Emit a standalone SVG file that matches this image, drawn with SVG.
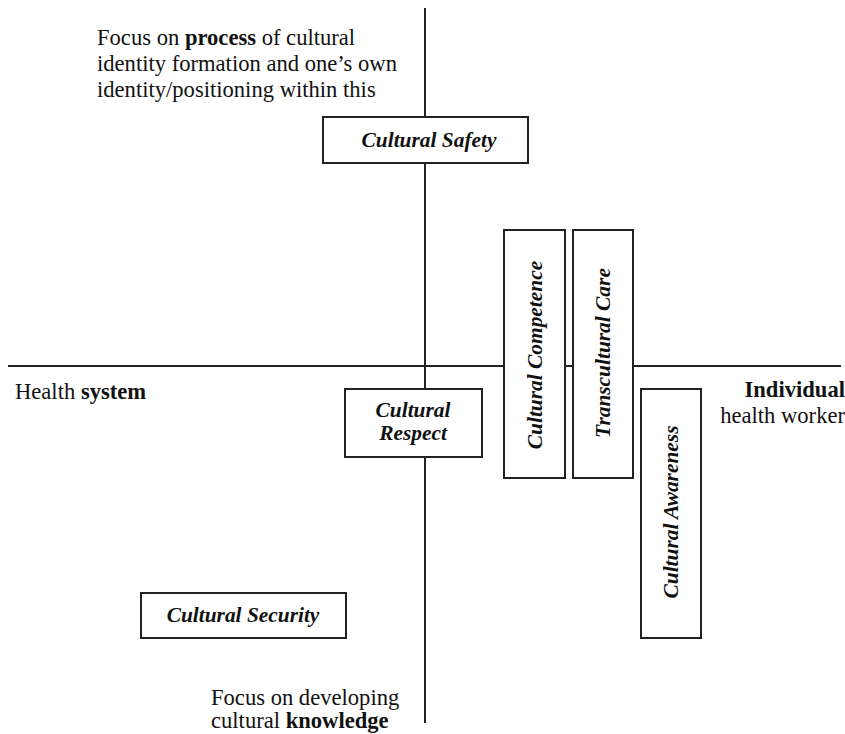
<svg xmlns="http://www.w3.org/2000/svg" width="845" height="734" viewBox="0 0 845 734">
<style>
.ax{stroke:#222;stroke-width:2;fill:none}
.box{fill:#fff;stroke:#222;stroke-width:2}
text{font-family:'Liberation Serif','Times New Roman',Tinos,'DejaVu Serif',serif;fill:#111}
.lbl{font-size:21.4px;font-weight:bold;font-style:italic;text-anchor:middle}
.txt{font-size:22.6px}
.b{font-weight:bold}
</style>
<rect width="845" height="734" fill="#fff"/>
<g id="connectors">
<line class="ax" x1="425" y1="8" x2="425" y2="723"/>
<line class="ax" x1="8" y1="366" x2="841" y2="366"/>
</g>
<g id="top-text"><text class="txt" x="97" y="45">Focus on <tspan class="b">process</tspan> of cultural</text>
<text class="txt" x="97" y="71">identity formation and one’s own</text>
<text class="txt" x="97" y="97">identity/positioning within this</text></g>
<g id="left-text"><text class="txt" x="15" y="399">Health <tspan class="b">system</tspan></text></g>
<g id="right-text"><text class="txt b" x="845" y="397" text-anchor="end">Individual</text>
<text class="txt" x="845" y="423" text-anchor="end">health worker</text></g>
<g id="bottom-text"><text class="txt" x="211" y="705">Focus on developing</text>
<text class="txt" x="211" y="728">cultural <tspan class="b">knowledge</tspan></text></g>
<g id="cultural-safety"><rect class="box" x="323" y="117" width="205" height="46"/><text class="lbl" x="429" y="147">Cultural Safety</text></g>
<g id="cultural-respect"><rect class="box" x="345" y="389" width="137" height="68"/><text class="lbl" x="413" y="417">Cultural</text><text class="lbl" x="413" y="440">Respect</text></g>
<g id="cultural-competence"><rect class="box" x="504" y="230" width="61" height="248"/><text class="lbl" transform="translate(542 355) rotate(-90)">Cultural Competence</text></g>
<g id="transcultural-care"><rect class="box" x="573" y="230" width="60" height="248"/><text class="lbl" transform="translate(610 353) rotate(-90)">Transcultural Care</text></g>
<g id="cultural-awareness"><rect class="box" x="641" y="389" width="60" height="249"/><text class="lbl" transform="translate(678 512) rotate(-90)">Cultural Awareness</text></g>
<g id="cultural-security"><rect class="box" x="141" y="593" width="205" height="45"/><text class="lbl" x="243" y="622">Cultural Security</text></g>
</svg>
